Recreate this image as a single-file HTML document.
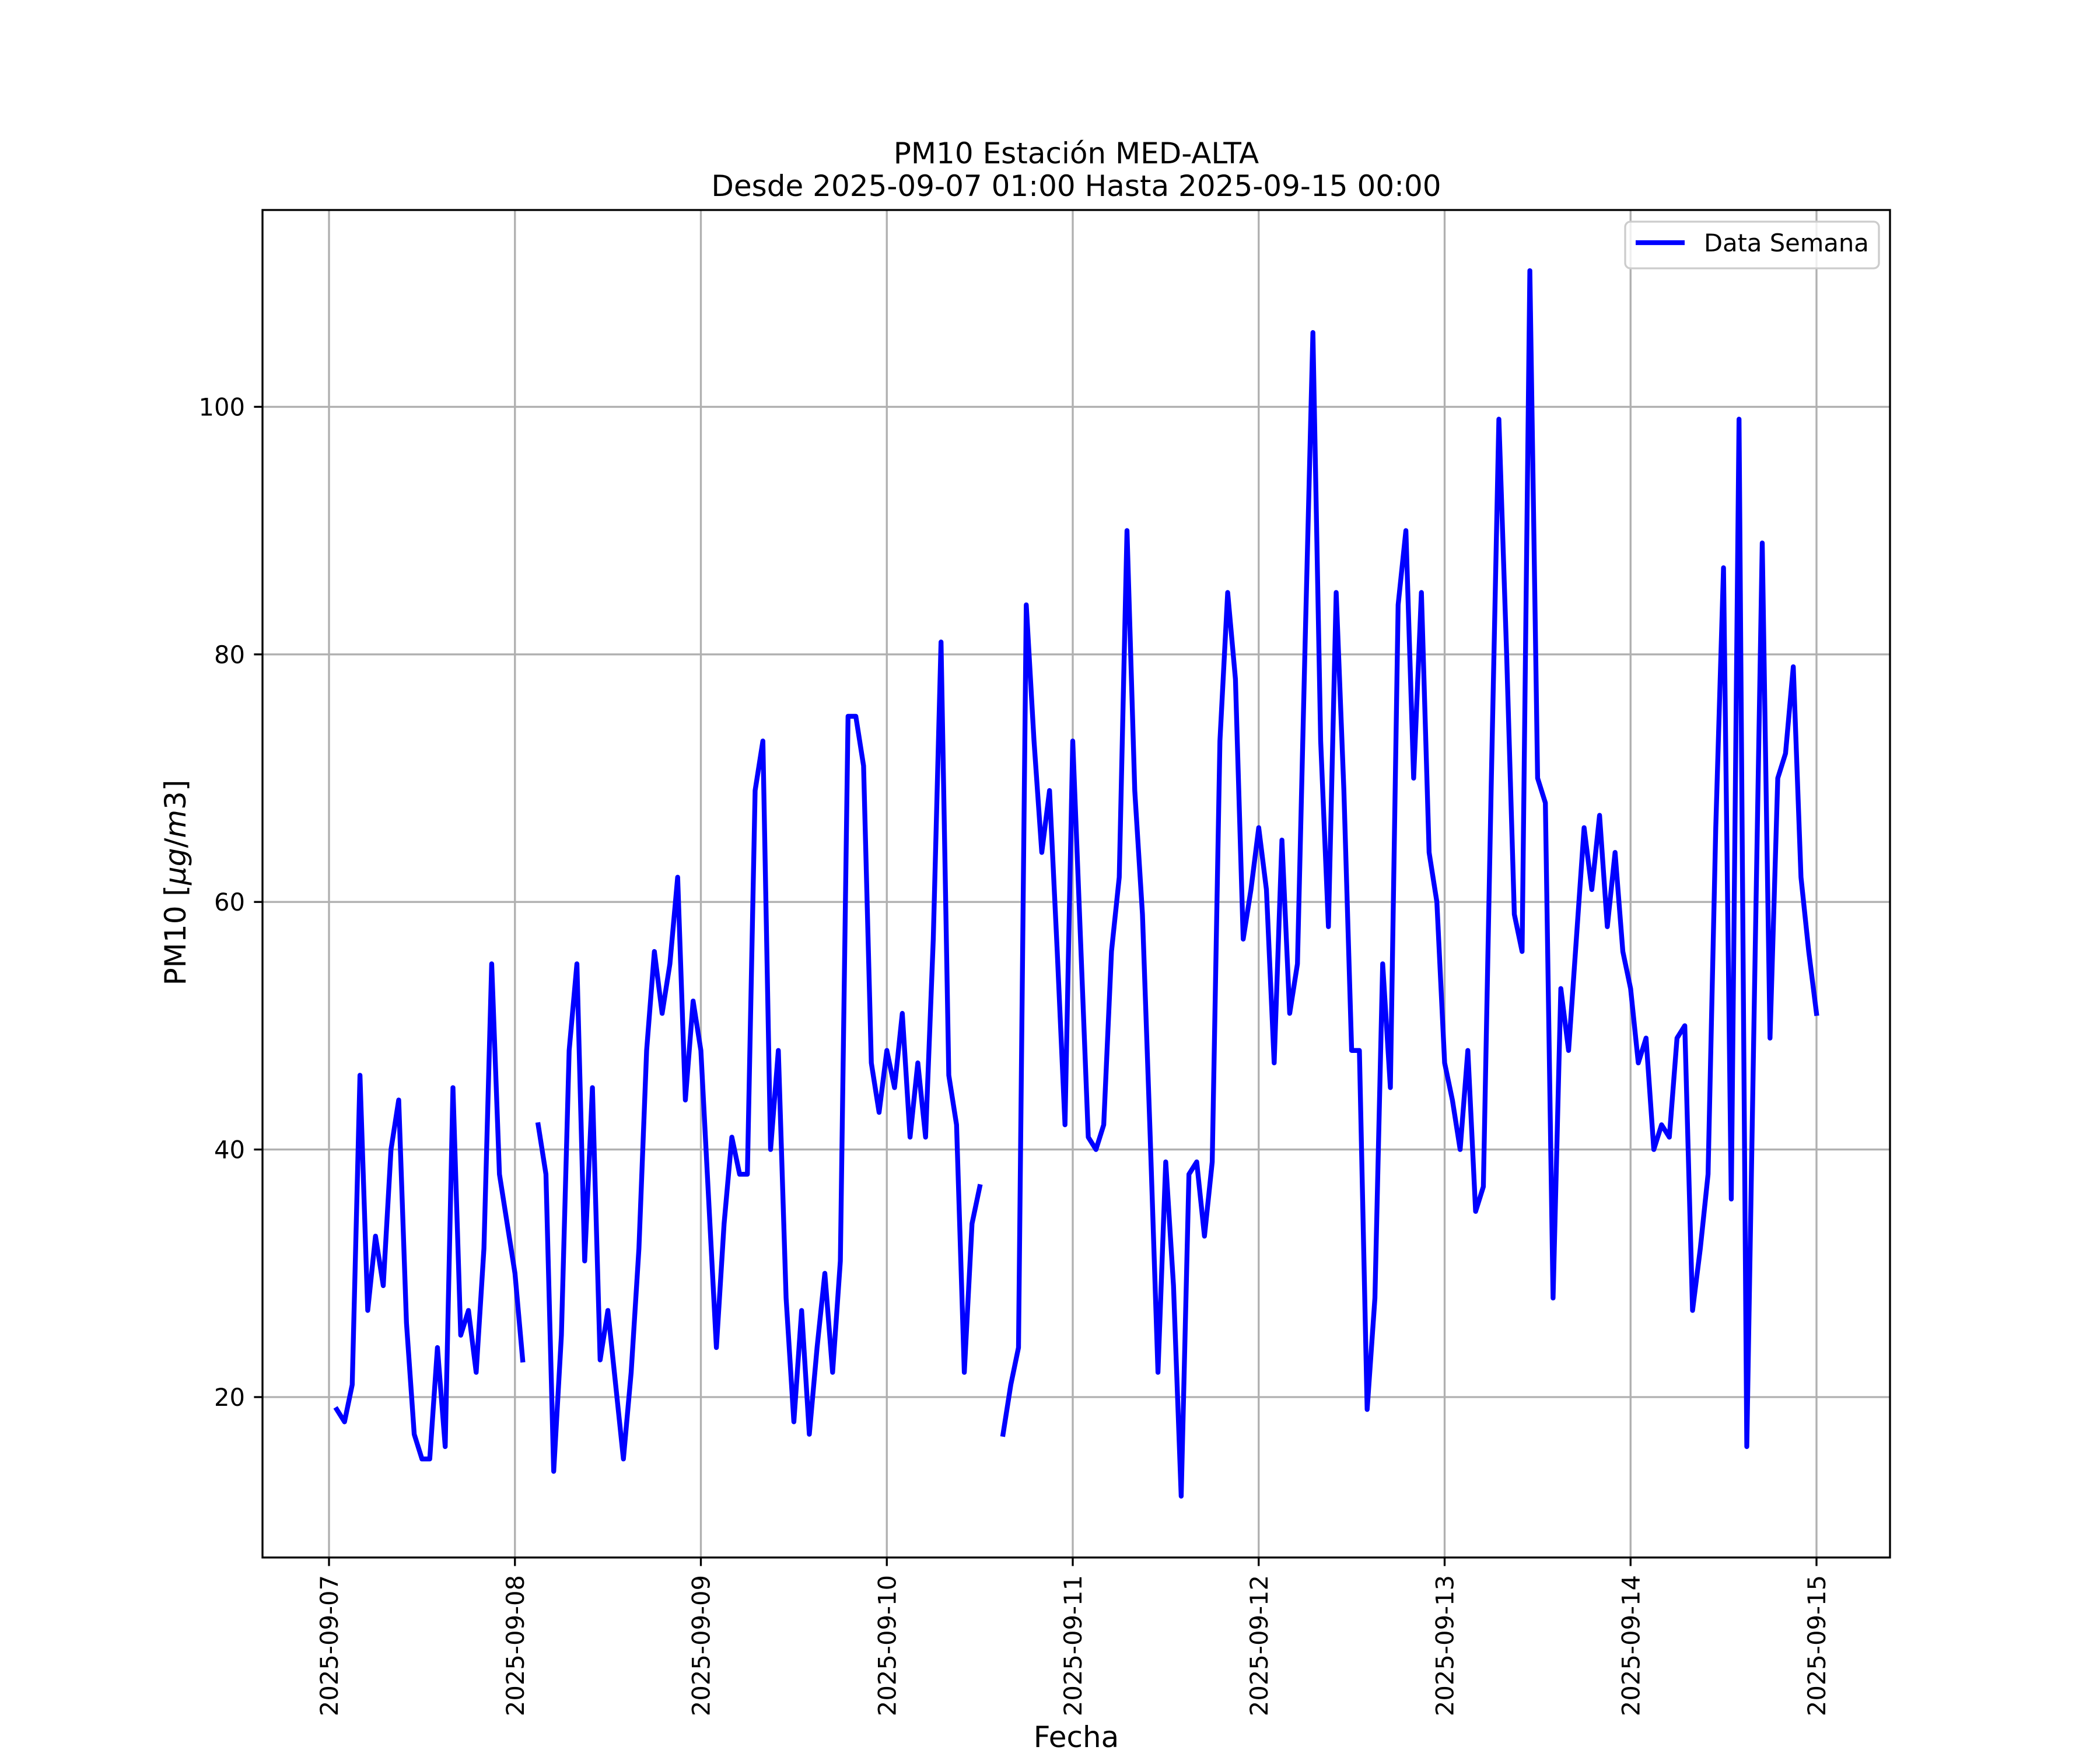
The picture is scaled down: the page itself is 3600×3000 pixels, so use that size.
<!DOCTYPE html>
<html><head><meta charset="utf-8"><style>
html,body{margin:0;padding:0;background:#fff}
svg{display:block}
text{font-family:"DejaVu Sans","Liberation Sans",sans-serif;fill:#000}
</style></head><body>
<svg id="chart" width="3600" height="3000" viewBox="0 0 3600 3000" xmlns="http://www.w3.org/2000/svg">
<rect width="3600" height="3000" fill="#fff"/>
<text x="1845" y="280" font-size="50" text-anchor="middle">PM10 Estación MED-ALTA</text>
<text x="1845" y="336" font-size="50" text-anchor="middle">Desde 2025-09-07 01:00 Hasta 2025-09-15 00:00</text>
<g id="grid"></g>
<g id="series"></g>
<rect x="450" y="360" width="2790" height="2310" fill="none" stroke="#000" stroke-width="3.33"/>
<g id="ticks"></g>
<text transform="translate(318,1513) rotate(-90)" font-size="50" text-anchor="middle">PM10 [<tspan font-style="italic">μg</tspan>/<tspan font-style="italic">m</tspan>3]</text>
<text x="1845" y="2995" font-size="50" text-anchor="middle">Fecha</text>
<g>
<rect x="2786" y="380" width="435" height="80" rx="9" fill="#fff" fill-opacity="0.8" stroke="#cccccc" stroke-width="3.33"/>
<line x1="2804" y1="416" x2="2888" y2="416" stroke="#0000ff" stroke-width="8.33"/>
<text x="2921" y="431" font-size="41.67">Data Semana</text>
</g>
</svg>
<script>
const xTickLabels = ["2025-09-07","2025-09-08","2025-09-09","2025-09-10","2025-09-11","2025-09-12","2025-09-13","2025-09-14","2025-09-15"];
const yTickValues = [20,40,60,80,100];
const startHour = 1;
const pm10Values = [19,18,21,46,27,33,29,40,44,26,17,15,15,24,16,45,25,27,22,32,55,38,34,30,23,null,
42,38,14,25,48,55,31,45,23,27,21,15,22,32,48,56,51,55,62,44,52,48,36,24,34,41,38,38,69,73,40,48,28,18,27,17,24,30,22,31,75,75,71,47,43,48,45,51,41,47,41,57,81,46,42,22,34,37,null,null,
17,21,24,84,73,64,69,56,42,73,57,41,40,42,56,62,90,69,59,41,22,39,29,12,38,39,33,39,73,85,78,57,61,66,61,47,65,51,55,81,106,73,58,85,69,48,48,19,28,55,45,84,90,70,85,64,60,47,44,40,48,35,37,69,99,80,59,56,111,70,68,28,53,48,57,66,61,67,58,64,56,53,47,49,40,42,41,49,50,27,32,38,66,87,36,99,16,53,89,49,70,72,79,62,56,51];

const NS = "http://www.w3.org/2000/svg";
const X0 = 564, DAY = 318.75, YB = 2395, PER = 21.22;
function xs(h){ return X0 + h/24*DAY; }
function ys(v){ return YB - (v-20)*PER; }
const grid = document.getElementById('grid');
const ticks = document.getElementById('ticks');
const series = document.getElementById('series');
function mk(tag, attrs, parent){ const e=document.createElementNS(NS,tag); for(const k in attrs) e.setAttribute(k,attrs[k]); parent.appendChild(e); return e; }

xTickLabels.forEach((lab,i)=>{
  const x = xs(i*24);
  const g = mk('line',{x1:x,y1:360,x2:x,y2:2670,stroke:'#b0b0b0','stroke-width':3.33},grid);
  
  
  const t = mk('line',{x1:x,y1:2670,x2:x,y2:2684.6,stroke:'#000','stroke-width':3.33},ticks);
  
  
  const tx = mk('text',{transform:`translate(${x+15},2700) rotate(-90)`,'font-size':41.67,'text-anchor':'end'},ticks);
  tx.textContent = lab;
  
  
});
yTickValues.forEach(v=>{
  const y = ys(v);
  const g = mk('line',{x1:450,y1:y,x2:3240,y2:y,stroke:'#b0b0b0','stroke-width':3.33},grid);
  
  
  const t = mk('line',{x1:435.4,y1:y,x2:450,y2:y,stroke:'#000','stroke-width':3.33},ticks);
  
  
  const tx = mk('text',{x:420,y:y+15,'font-size':41.67,'text-anchor':'end'},ticks);
  tx.textContent = String(v);
  
  
});
let d = '', pen = false;
pm10Values.forEach((v,i)=>{
  if(v===null){ pen=false; return; }
  const x = xs(startHour+i), y = ys(v);
  d += (pen?'L':'M') + x.toFixed(1) + ' ' + y.toFixed(1) + ' ';
  pen = true;
});
const p = mk('path',{d:d,fill:'none',stroke:'#0000ff','stroke-width':8.33,'stroke-linejoin':'round','stroke-linecap':'square'},series);


</script>
</body></html>
